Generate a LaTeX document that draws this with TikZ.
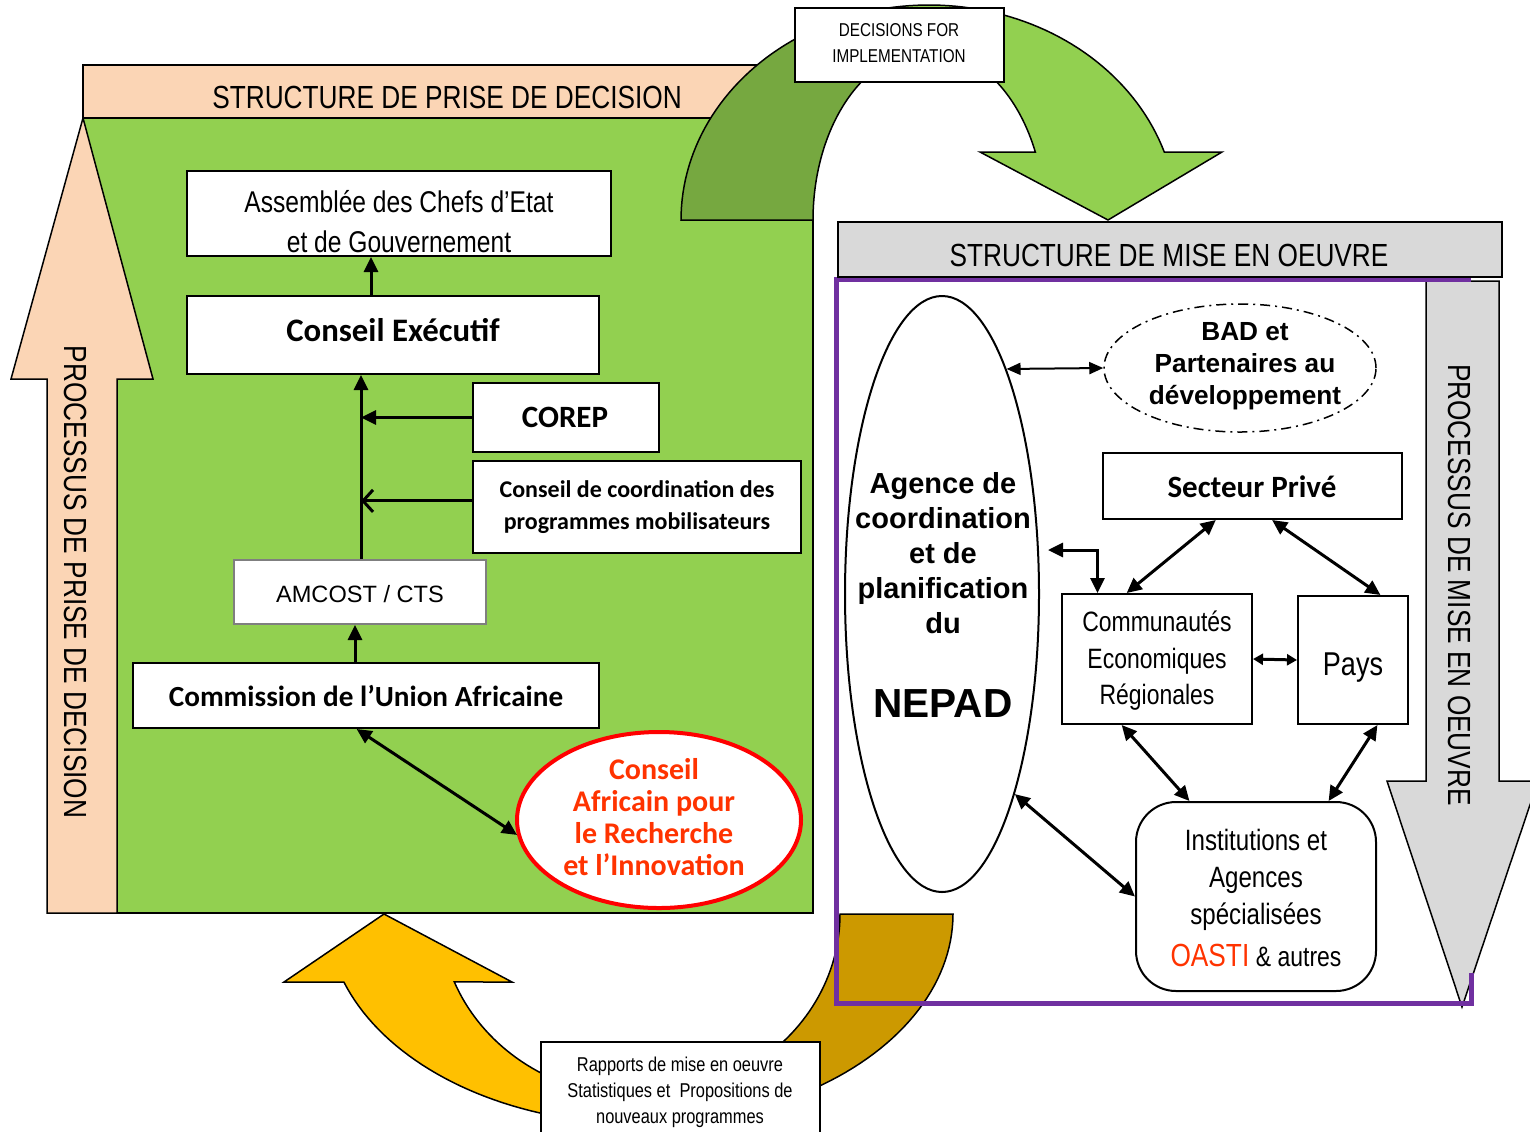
\documentclass[tikz,border=0pt]{standalone}
\usepackage{fontspec}
\setmainfont{Liberation Sans}
\newfontfamily\nar[FakeStretch=0.82]{Liberation Sans}
\newfontfamily\calfont{Carlito}
\usetikzlibrary{arrows.meta,shapes.geometric,calc,fit}
\definecolor{peach}{RGB}{251,213,181}
\definecolor{grn}{RGB}{146,208,80}
\definecolor{dkgrn}{RGB}{118,168,64}
\definecolor{gry}{RGB}{217,217,217}
\definecolor{purp}{RGB}{112,48,160}
\definecolor{yel}{RGB}{255,192,0}
\definecolor{gold}{RGB}{204,153,0}
\definecolor{cari}{RGB}{255,51,0}
\definecolor{amcgray}{RGB}{127,127,127}
\def\toparrow{(681,220) -- plot[domain=180:18.44,samples=90,variable=\t] ({929+248*cos(\t)},{220-215*sin(\t)}) -- (1222,152) -- (1108,220) -- (980,152) -- plot[domain=23.58:180,samples=90,variable=\t] ({929+116*cos(\t)},{220-170*sin(\t)}) -- cycle}
\def\botarrow{(953,914) -- plot[domain=0:161.1,samples=90,variable=\t] ({640+313*cos(\t)},{914+210*sin(\t)}) -- (284,982) -- (384,914) -- (512,982) -- plot[domain=158.2:0,samples=90,variable=\t] ({640+200*cos(\t)},{914+183*sin(\t)}) -- cycle}
\begin{document}
\begin{tikzpicture}[x=0.5pt,y=-0.5pt,
  box/.style={draw=black, line width=1pt, fill=white, inner sep=0pt},
  conn/.style={line width=1.5pt, -{Triangle[length=7.5pt,width=7pt]}},
  dconn/.style={line width=1.5pt, {Triangle[length=7.5pt,width=7pt]}-{Triangle[length=7.5pt,width=7pt]}},
  sconn/.style={line width=1.5pt, {Triangle[length=5pt,width=5.5pt]}-{Triangle[length=5pt,width=5.5pt]}},
  tconn/.style={line width=1pt, {Triangle[length=7pt,width=6pt]}-{Triangle[length=7pt,width=6pt]}},
  shapeline/.style={draw=black, line width=0.75pt},
  txt/.style={inner sep=0pt, align=center},
]
\useasboundingbox (0,0) rectangle (1530,1131);
\fill[white] (0,0) rectangle (1530,1131);

% ---------- left: decision structure ----------
\draw[fill=peach, line width=1pt] (83,65) rectangle (800,118);
\draw[fill=grn, line width=1pt] (83,118) rectangle (813,913);
\draw[shapeline, fill=peach] (83,118) -- (153,379) -- (117,379) -- (117,913) -- (47,913) -- (47,379) -- (11,379) -- cycle;
\node[txt, rotate=-90, font=\nar\fontsize{16}{16}\selectfont] (pdtxt) at (76,582) {PROCESSUS DE PRISE DE DECISION};
\node[txt, font=\nar\fontsize{16}{16}\selectfont] (h1) at (447,97) {STRUCTURE DE PRISE DE DECISION};

% top curved arrow
\fill[grn] \toparrow;
\begin{scope}
  \clip (0,0) rectangle (900,240);
  \fill[dkgrn] \toparrow;
\end{scope}
\draw[shapeline] \toparrow;
\node[box, fit={(795,8)(1004,82)}] (dec) {};
\node[txt, font=\nar\fontsize{9.3}{13}\selectfont] (dectxt) at (899,43) {DECISIONS FOR\\IMPLEMENTATION};

% boxes
\node[box, fit={(187,171)(611,256)}] (ass) {};
\node[txt, font=\nar\fontsize{15}{20}\selectfont] (asstxt) at (399,222) {Assemblée des Chefs d’Etat\\et de Gouvernement};
\node[box, fit={(187,296)(599,374)}] (ce) {};
\node[txt, font=\calfont\bfseries\fontsize{16.4}{16.4}\selectfont] (cetxt) at (393,330) {Conseil Exécutif};
\node[box, fit={(473,383)(659,452)}] (corep) {};
\node[txt, font=\calfont\bfseries\fontsize{15.5}{15.5}\selectfont] (coreptxt) at (565,417) {COREP};
\node[box, fit={(473,461)(801,553)}] (ccpm) {};
\node[txt, font=\calfont\bfseries\fontsize{12}{16}\selectfont] (ccpmtxt) at (637,507) {Conseil de coordination des\\programmes mobilisateurs};
\node[box, draw=amcgray, fit={(234,560)(486,624)}] (amc) {};
\node[txt, font=\fontsize{11.8}{11.8}\selectfont] (amctxt) at (360,594) {AMCOST / CTS};
\node[box, fit={(133,663)(599,728)}] (com) {};
\node[txt, font=\calfont\bfseries\fontsize{14.6}{14.6}\selectfont] (comtxt) at (366,696) {Commission de l’Union Africaine};
\node[ellipse, draw=red, line width=2pt, fill=white, minimum width=142pt, minimum height=88pt, inner sep=0pt] (cari) at (659,820) {};
\node[txt, text=cari, font=\calfont\bfseries\fontsize{15}{16}\selectfont] (caritxt) at (654,817) {Conseil\\Africain pour\\le Recherche\\et l’Innovation};

% left connectors
\coordinate (xa) at (371,0);
\coordinate (xb) at (361,0);
\coordinate (xc) at (355,0);
\draw[conn] (ce.north -| xa) -- (ass.south -| xa);
\draw[conn] (amc.north -| xb) -- (ce.south -| xb);
\draw[conn] (corep.west) -- (corep.west -| xb);
\coordinate (ccw) at ($(ccpm.north west)!0.435!(ccpm.south west)$);
\draw[line width=1.5pt, -{Straight Barb[length=5pt,width=11pt,line width=1.5pt]}] (ccw) -- (ccw -| xb);
\draw[conn] (com.north -| xc) -- (amc.south -| xc);
\draw[dconn] ($(com.south west)!0.48!(com.south east)$) -- (cari.186);

% ---------- bottom curved arrow ----------
\begin{scope}
  \clip (0,0) rectangle (680,1131);
  \fill[yel] \botarrow;
\end{scope}
\begin{scope}
  \clip (680,0) rectangle (1530,1131);
  \fill[gold] \botarrow;
\end{scope}
\draw[shapeline] \botarrow;

% ---------- right: implementation structure ----------
\draw[shapeline, fill=gry] (1426,281) -- (1499,281) -- (1499,781) -- (1538,781) -- (1462,1007) -- (1387,781) -- (1426,781) -- cycle;
\node[txt, rotate=-90, font=\nar\fontsize{16}{16}\selectfont] (mtxt) at (1459,585) {PROCESSUS DE MISE EN OEUVRE};
\draw[purp, line width=2.5pt] (1471,973) -- (1471,1003) -- (836,1003) -- (836,279) -- (1471,279);
\draw[fill=gry, line width=1pt] (838,222) rectangle (1502,277);
\node[txt, font=\nar\fontsize{16}{16}\selectfont] (h2) at (1169,255) {STRUCTURE DE MISE EN OEUVRE};

\node[ellipse, draw, line width=1pt, fill=white, minimum width=97pt, minimum height=298pt, inner sep=0pt] (nepad) at (942,594) {};
\node[txt, font=\bfseries\fontsize{14.5}{17.5}\selectfont] (nepadtxt) at (943,553) {Agence de\\coordination\\et de\\planification\\du};
\node[txt, font=\bfseries\fontsize{20.3}{20.3}\selectfont] (nepadbig) at (943,704) {NEPAD};

\node[ellipse, draw, line width=0.75pt, dash pattern=on 5pt off 2.5pt on 1pt off 2.5pt, fill=white, minimum width=136pt, minimum height=64pt, inner sep=0pt] (bad) at (1240,368) {};
\node[txt, font=\bfseries\fontsize{13.1}{16}\selectfont] (badtxt) at (1245,366) {BAD et\\Partenaires au\\développement};

\node[box, fit={(1103,453)(1402,519)}] (sp) {};
\node[txt, font=\calfont\bfseries\fontsize{15.5}{15.5}\selectfont] (sptxt) at (1252,487) {Secteur Privé};
\node[box, fit={(1062,594)(1252,724)}] (cer) {};
\node[txt, font=\nar\fontsize{14}{18.25}\selectfont] (certxt) at (1157,661) {Communautés\\Economiques\\Régionales};
\node[box, fit={(1298,596)(1408,724)}] (pays) {};
\node[txt, font=\nar\fontsize{16.5}{16.5}\selectfont] (paystxt) at (1353,668) {Pays};
\node[box, rounded corners=20pt, fit={(1136,802)(1376,991)}] (inst) {};
\node[txt, font=\nar\fontsize{14.7}{18.5}\selectfont] (insttxt) at (1256,898) {Institutions et\\Agences\\spécialisées\\[2.5pt]{\color{cari}\fontsize{16}{18.5}\selectfont OASTI} {\fontsize{14}{18.5}\selectfont\&~autres}};

% right connectors
\draw[tconn] (nepad.74.5) -- (bad.west);
\draw[dconn] ($(sp.south west)!0.378!(sp.south east)$) -- ($(cer.north west)!0.342!(cer.north east)$);
\draw[dconn] ($(sp.south west)!0.565!(sp.south east)$) -- ($(pays.north west)!0.745!(pays.north east)$);
\draw[sconn] (cer.east) -- (pays.west);
\draw[dconn] ($(cer.south west)!0.316!(cer.south east)$) -- ($(inst.north west)!0.225!(inst.north east)$);
\draw[dconn] ($(pays.south west)!0.718!(pays.south east)$) -- ($(inst.north west)!0.8!(inst.north east)$);
\draw[dconn] (nepad.-70) -- (inst.west);
\coordinate (elb) at (1048,550);
\draw[dconn] (elb) -| ($(cer.north west)!0.19!(cer.north east)$);

% bottom text box
\node[box, fit={(541,1042)(820,1133)}] (rap) {};
\node[txt, font=\nar\fontsize{10}{13}\selectfont] (raptxt) at (680,1092) {Rapports de mise en oeuvre\\Statistiques et\ \ Propositions de\\nouveaux programmes};
\end{tikzpicture}
\end{document}
